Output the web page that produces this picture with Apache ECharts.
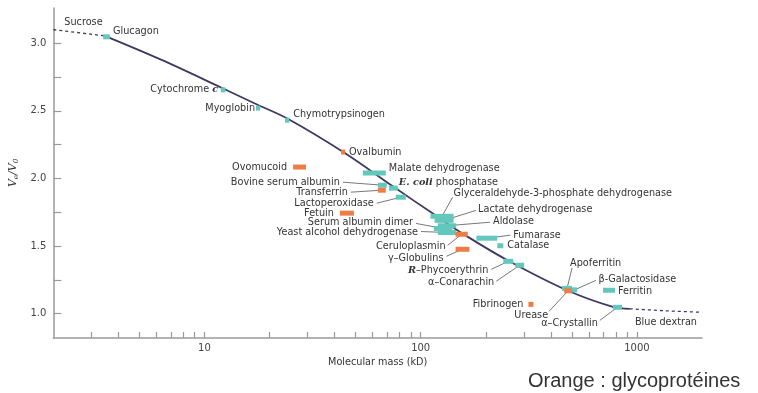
<!DOCTYPE html>
<html>
<head>
<meta charset="utf-8">
<script src="https://cdn.jsdelivr.net/npm/echarts@6/dist/echarts.min.js"></script>
<style>
  html, body { margin: 0; padding: 0; background: #ffffff; }
  #chart { width: 758px; height: 393px; }
</style>
</head>
<body>
<div id="chart"></div>
<script>
// ---------- DATA ----------
const proteinNames = [
  'Glucagon', 'Cytochrome c', 'Myoglobin', 'Chymotrypsinogen', 'Ovalbumin',
  'Ovomucoid', 'Malate dehydrogenase', 'Bovine serum albumin', 'Transferrin',
  'E. coli phosphatase', 'Lactoperoxidase', 'Fetuin',
  'Glyceraldehyde-3-phosphate dehydrogenase', 'Lactate dehydrogenase', 'Aldolase',
  'Serum albumin dimer', 'Yeast alcohol dehydrogenase', 'Ceruloplasmin', 'γ-Globulins',
  'Fumarase', 'Catalase', 'R-Phycoerythrin', 'α-Conarachin', 'Apoferritin', 'Urease',
  'β-Galactosidase', 'Ferritin', 'Fibrinogen', 'α-Crystallin'
];
// molecular mass range (kD) of each mark
const massLow  = [3.4, 11.9, 17.3, 23.6, 42.8, 25.7, 54, 63.4, 63.4, 71.3, 76.7, 42.3,
                  111, 116, 120, 115, 120, 145, 145, 181, 226, 241, 274, 451, 461, 501, 697, 315, 774];
const massHigh = [3.65, 12.5, 18.1, 24.7, 44.6, 29.5, 69, 69.7, 69, 78.4, 85.3, 49.1,
                  142, 142, 146, 140, 146, 165, 168, 226, 241, 268, 301, 501, 501, 529, 792, 332, 853];
// Ve / V0
const veRatio  = [3.047, 2.655, 2.52, 2.43, 2.195, 2.084, 2.04, 1.95, 1.913, 1.928, 1.861, 1.743,
                  1.72, 1.69, 1.65, 1.63, 1.60, 1.587, 1.476, 1.558, 1.502, 1.387, 1.358, 1.187, 1.169,
                  1.176, 1.173, 1.069, 1.047];
// 1 = glycoprotein (orange)
const isGlyco  = [0, 0, 0, 0, 1, 1, 0, 0, 1, 0, 0, 1, 0, 0, 0, 0, 0, 1, 1, 0, 0, 0, 0, 0, 1, 0, 0, 1, 0];

// calibration curve
const curveLeftMass  = [2, 3.46];
const curveLeftVe    = [3.10, 3.054];
const curveMainMass  = [3.46, 6.34, 12.2, 17.7, 24.4, 44.2, 75.2, 114.8, 152.8, 251.8, 475, 774, 928];
const curveMainVe    = [3.054, 2.876, 2.665, 2.543, 2.439, 2.191, 1.936, 1.736, 1.602, 1.395, 1.173, 1.050, 1.036];
const curveRightMass = [928, 1361, 2000];
const curveRightVe   = [1.036, 1.021, 1.010];
const curveEndNames  = ['Sucrose', 'Blue dextran'];

// axis ticks / labels
const xLabelValues = [10, 100, 1000];
const xTickValues  = [3, 4, 5, 6, 7, 8, 9, 10, 20, 30, 40, 50, 60, 70, 80, 90, 100,
                      200, 300, 400, 500, 600, 700, 800, 900, 1000];
const yLabelValues = [1.0, 1.5, 2.0, 2.5, 3.0];
const yTickValues  = [1.0, 1.25, 1.5, 1.75, 2.0, 2.25, 2.5, 2.75, 3.0];

const xAxisTitle = 'Molecular mass (kD)';
const legendNote = 'Orange : glycoprotéines';

// ---------- LAYOUT (label offsets in px relative to each mark) ----------
const labelLayout = {
  'Glucagon': { dx: 6.5, dy: -5, align: 'left' },
  'Cytochrome c': { dx: -5, dy: 0, align: 'right' },
  'Myoglobin': { dx: -3, dy: 0, align: 'right' },
  'Chymotrypsinogen': { dx: 6, dy: -6, align: 'left' },
  'Ovalbumin': { dx: 6, dy: 0, align: 'left' },
  'Ovomucoid': { dx: -12.5, dy: 0, align: 'right' },
  'Malate dehydrogenase': { dx: 14.5, dy: -5, align: 'left' },
  'Bovine serum albumin': { dx: -42.5, dy: -3, align: 'right', line: [-39.5, -3] },
  'Transferrin': { dx: -34, dy: 2, align: 'right', line: [-31, 2] },
  'E. coli phosphatase': { dx: 5.5, dy: -6, align: 'left' },
  'Lactoperoxidase': { dx: -27, dy: 6, align: 'right', line: [-24, 6] },
  'Fetuin': { dx: -13, dy: 0, align: 'right' },
  'Glyceraldehyde-3-phosphate dehydrogenase': { dx: 11.5, dy: -23, align: 'left', line: [10.5, -19] },
  'Lactate dehydrogenase': { dx: 34, dy: -11, align: 'left', line: [32, -10] },
  'Aldolase': { dx: 46, dy: -4.5, align: 'left', line: [43, -3.5] },
  'Serum albumin dimer': { dx: -30, dy: -6, align: 'right', line: [-27, -5] },
  'Yeast alcohol dehydrogenase': { dx: -29, dy: 0, align: 'right', line: [-26, -1] },
  'Ceruloplasmin': { dx: -16, dy: 12, align: 'right', line: [-14, 11] },
  'γ-Globulins': { dx: -19, dy: 9, align: 'right', line: [-16, 7] },
  'Fumarase': { dx: 26.5, dy: -3, align: 'left', line: [23.5, -3] },
  'Catalase': { dx: 7, dy: 0, align: 'left' },
  'R-Phycoerythrin': { dx: -20, dy: 9, align: 'right', line: [-17, 8] },
  'α-Conarachin': { dx: -25.5, dy: 17, align: 'right', line: [-23.5, 16] },
  'Apoferritin': { dx: 3, dy: -24.5, align: 'left', line: [5, -20.5] },
  'Urease': { dx: -20, dy: 24.5, align: 'right', line: [-19, 20.5] },
  'β-Galactosidase': { dx: 24, dy: -10.5, align: 'left', line: [21.5, -9.5] },
  'Ferritin': { dx: 9, dy: 1, align: 'left' },
  'Fibrinogen': { dx: -7.5, dy: 0, align: 'right' },
  'α-Crystallin': { dx: -19.5, dy: 16, align: 'right', line: [-17.5, 13] },
  'Sucrose': { dx: 11, dy: -7.5, align: 'left' },
  'Blue dextran': { dx: -5, dy: 10, align: 'right' }
};

// rich-text display of some names (italics as in the figure)
function displayText(name) {
  switch (name) {
    case 'Cytochrome c': return 'Cytochrome {it|c}';
    case 'E. coli phosphatase': return '{it|E. coli} phosphatase';
    case 'R-Phycoerythrin': return '{it|R}\u2013Phycoerythrin';
    case 'α-Conarachin': return 'α\u2013Conarachin';
    case 'γ-Globulins': return 'γ\u2013Globulins';
    case 'α-Crystallin': return 'α\u2013Crystallin';
    default: return name;
  }
}

const TEAL = '#63c7bb';
const ORANGE = '#ef7c44';
const TEXT = '#333333';
const LABEL_FONT = 'DejaVu Sans';
const LABEL_SIZE = 9.7;
const richStyles = {
  it: { fontFamily: 'DejaVu Serif', fontStyle: 'italic', fontWeight: 'bold', fontSize: LABEL_SIZE, fill: TEXT }
};

function textEl(name, cx, cy) {
  const lay = labelLayout[name];
  return {
    type: 'text',
    x: cx + lay.dx,
    y: cy + lay.dy,
    z2: 20,
    style: {
      text: displayText(name),
      align: lay.align,
      verticalAlign: 'middle',
      fill: TEXT,
      fontSize: LABEL_SIZE,
      fontFamily: LABEL_FONT,
      rich: richStyles
    }
  };
}

const markData = proteinNames.map((n, i) => [massLow[i], massHigh[i], veRatio[i], isGlyco[i]]);

const chart = echarts.init(document.getElementById('chart'), null, { renderer: 'canvas' });

const option = {
  backgroundColor: '#ffffff',
  animation: false,
  grid: { left: 52, right: 56, top: 8, bottom: 55, containLabel: false },
  xAxis: {
    type: 'log',
    logBase: 10,
    min: 2,
    max: 2000,
    name: xAxisTitle,
    nameLocation: 'middle',
    nameGap: 19,
    nameTextStyle: { fontFamily: LABEL_FONT, fontSize: 9.7, color: TEXT },
    axisLine: { lineStyle: { color: '#9a9a9a', width: 1.5 } },
    axisTick: { show: true, inside: true, length: 6, customValues: xTickValues, lineStyle: { color: '#9a9a9a', width: 1.2 } },
    axisLabel: { customValues: xLabelValues, margin: 5, fontFamily: LABEL_FONT, fontSize: 10, color: '#444',
                 formatter: v => String(Math.round(v)) },
    minorTick: { show: false },
    splitLine: { show: false }
  },
  yAxis: {
    type: 'value',
    min: 0.82,
    max: 3.26,
    name: '{i|V}{s|e}{i|/V}{s|0}',
    nameLocation: 'middle',
    nameRotate: 90,
    nameGap: 30,
    nameTextStyle: {
      color: TEXT,
      rich: {
        i: { fontFamily: 'DejaVu Serif', fontStyle: 'italic', fontSize: 11, color: TEXT },
        s: { fontFamily: 'DejaVu Serif', fontStyle: 'italic', fontSize: 7, color: TEXT, padding: [5, 0, 0, 0] }
      }
    },
    axisLine: { show: true, lineStyle: { color: '#9a9a9a', width: 1.5 } },
    axisTick: { show: true, inside: true, length: 8, customValues: yTickValues, lineStyle: { color: '#9a9a9a', width: 1.2 } },
    axisLabel: { customValues: yLabelValues, margin: 7, fontFamily: LABEL_FONT, fontSize: 10, color: '#444',
                 formatter: v => Number(v).toFixed(1) },
    splitLine: { show: false }
  },
  graphic: [{
    type: 'text',
    left: 528,
    top: 371,
    style: { text: legendNote, fontFamily: 'Liberation Sans', fontSize: 20, fill: '#333333' }
  }],
  series: [
    {
      type: 'line', name: 'curve-left',
      data: curveLeftMass.map((m, i) => [m, curveLeftVe[i]]),
      showSymbol: false, symbol: 'none', smooth: false, z: 2,
      lineStyle: { color: '#3d3862', width: 1.3, type: [3, 3] }
    },
    {
      type: 'line', name: 'curve',
      data: curveMainMass.map((m, i) => [m, curveMainVe[i]]),
      showSymbol: false, symbol: 'none', smooth: 0.35, z: 2,
      lineStyle: { color: '#3d3862', width: 1.8 }
    },
    {
      type: 'line', name: 'curve-right',
      data: curveRightMass.map((m, i) => [m, curveRightVe[i]]),
      showSymbol: false, symbol: 'none', smooth: 0.3, z: 2,
      lineStyle: { color: '#3d3862', width: 1.3, type: [3, 3] }
    },
    {
      type: 'custom', name: 'ends', z: 3,
      data: [
        [curveLeftMass[0], curveLeftVe[0]],
        [curveRightMass[curveRightMass.length - 1], curveRightVe[curveRightVe.length - 1]]
      ],
      encode: { x: 0, y: 1 },
      renderItem: function (params, api) {
        const p = api.coord([api.value(0), api.value(1)]);
        return textEl(curveEndNames[params.dataIndex], p[0], p[1]);
      }
    },
    {
      type: 'custom', name: 'proteins', z: 3,
      data: markData,
      encode: { x: [0, 1], y: 2 },
      renderItem: function (params, api) {
        const i = params.dataIndex;
        const name = proteinNames[i];
        const v = api.value(2);
        const p0 = api.coord([api.value(0), v]);
        const p1 = api.coord([api.value(1), v]);
        const cx = (p0[0] + p1[0]) / 2;
        const cy = p0[1];
        const h = 5;
        const lay = labelLayout[name];
        const children = [];
        if (lay.line) {
          children.push({
            type: 'line', z2: 1,
            shape: { x1: cx + lay.line[0], y1: cy + lay.line[1], x2: cx, y2: cy },
            style: { stroke: '#555555', lineWidth: 0.8 }
          });
        }
        children.push({
          type: 'rect', z2: 10,
          shape: { x: p0[0], y: cy - h / 2, width: Math.max(4, p1[0] - p0[0]), height: h },
          style: { fill: api.value(3) ? ORANGE : TEAL }
        });
        children.push(textEl(name, cx, cy));
        return { type: 'group', children: children };
      }
    }
  ]
};

chart.setOption(option);
</script>
</body>
</html>
